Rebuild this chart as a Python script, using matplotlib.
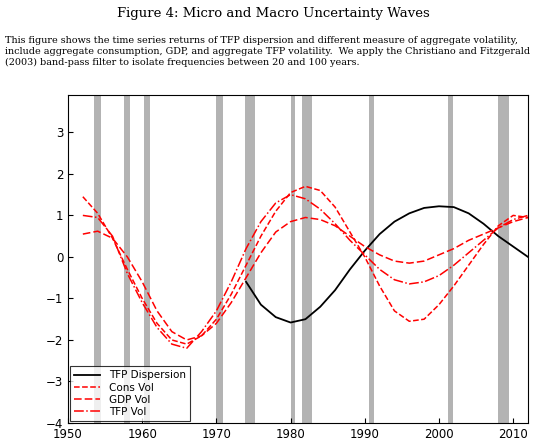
import matplotlib
matplotlib.use("Agg")
import matplotlib.pyplot as plt

years_tfp = [1974,1976,1978,1980,1982,1984,1986,1988,1990,1992,1994,1996,1998,2000,2002,2004,2006,2008,2010,2012]
tfp_disp = [-0.6,-1.15,-1.45,-1.58,-1.5,-1.2,-0.8,-0.3,0.15,0.55,0.85,1.05,1.18,1.22,1.2,1.05,0.8,0.5,0.25,0.0]

years = [1952,1954,1956,1958,1960,1962,1964,1966,1968,1970,1972,1974,1976,1978,1980,1982,1984,1986,1988,1990,1992,1994,1996,1998,2000,2002,2004,2006,2008,2010,2012]
cons_vol = [1.45,1.05,0.45,-0.3,-1.0,-1.6,-2.0,-2.1,-1.9,-1.5,-0.9,-0.2,0.5,1.1,1.55,1.7,1.6,1.2,0.6,0.0,-0.7,-1.3,-1.55,-1.5,-1.15,-0.7,-0.2,0.3,0.75,1.0,0.95]
gdp_vol = [0.55,0.62,0.45,0.0,-0.6,-1.3,-1.8,-2.0,-1.9,-1.6,-1.1,-0.5,0.1,0.6,0.85,0.95,0.9,0.75,0.5,0.25,0.05,-0.1,-0.15,-0.1,0.05,0.2,0.4,0.55,0.7,0.85,0.95]
tfp_vol = [1.0,0.95,0.5,-0.4,-1.1,-1.7,-2.1,-2.2,-1.8,-1.3,-0.6,0.2,0.85,1.3,1.5,1.4,1.15,0.8,0.4,0.05,-0.3,-0.55,-0.65,-0.6,-0.45,-0.2,0.1,0.4,0.7,0.9,1.0]

recessions = [(1953.5,1954.4),(1957.6,1958.4),(1960.3,1961.1),(1969.9,1970.9),(1973.9,1975.2),
              (1980.0,1980.6),(1981.6,1982.9),(1990.6,1991.2),(2001.2,2001.9),(2007.9,2009.5)]

fig = plt.figure(figsize=(5.46,4.47), dpi=100)
ax = fig.add_axes([68/546, 1-423/447, 460/546, 328/447])
for a,b in recessions:
    ax.axvspan(a,b,color='#b3b3b3',lw=0)
ax.plot(years_tfp, tfp_disp, 'k-', lw=1.3, label='TFP Dispersion')
ax.plot(years, cons_vol, color='red', ls='--', lw=1.1, label='Cons Vol')
ax.plot(years, gdp_vol, color='red', ls=(0,(5,2)), lw=1.1, label='GDP Vol')
ax.plot(years, tfp_vol, color='red', ls='-.', lw=1.1, label='TFP Vol')
ax.set_xlim(1950,2012)
ax.set_ylim(-4,3.9)
ax.set_xticks(range(1950,2011,10))
ax.set_yticks(range(-4,4))
ax.tick_params(direction='in', labelsize=8.5)
leg = ax.legend(loc='lower left', fontsize=7.5, fancybox=False, edgecolor='black', borderaxespad=0.2, handlelength=2.5, labelspacing=0.2)
leg.get_frame().set_linewidth(0.8)

fig.text(0.5, 1-14/447, 'Figure 4: Micro and Macro Uncertainty Waves', ha='center', va='center', family='DejaVu Serif', fontsize=9.5)
fig.text(5/546, 1-36/447,
         'This figure shows the time series returns of TFP dispersion and different measure of aggregate volatility,\n'
         'include aggregate consumption, GDP, and aggregate TFP volatility.  We apply the Christiano and Fitzgerald\n'
         '(2003) band-pass filter to isolate frequencies between 20 and 100 years.',
         ha='left', va='top', family='DejaVu Serif', fontsize=6.9, linespacing=1.3)
fig.savefig('out.png', dpi=100)
